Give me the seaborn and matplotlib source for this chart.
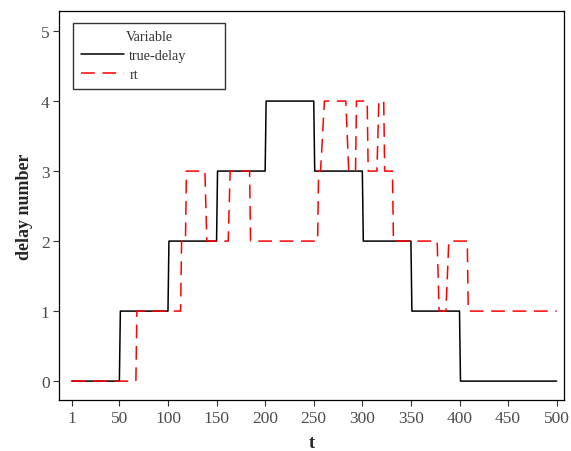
import matplotlib
matplotlib.use("Agg")
import matplotlib.pyplot as plt
import seaborn as sns
import pandas as pd

# ---- data (breakpoints) ----
t_true = [1, 50, 51, 100, 101, 150, 151, 200, 201, 250, 251, 300, 301, 350, 351, 400, 401, 500]
v_true = [0, 0, 1, 1, 2, 2, 3, 3, 4, 4, 3, 3, 2, 2, 1, 1, 0, 0]

t_rt = [1, 67, 68, 113, 114, 118, 119, 138, 140, 162, 164, 184, 185, 254, 255, 257, 261,
        283, 286, 293, 294, 305, 306, 315, 317, 322, 323, 331, 332, 377, 379, 386, 389,
        408, 409, 500]
v_rt = [0, 0, 1, 1, 2, 2, 3, 3, 2, 2, 3, 3, 2, 2, 3, 3, 4,
        4, 3, 3, 4, 4, 3, 3, 4, 4, 3, 3, 2, 2, 1, 1, 2,
        2, 1, 1]

series_names = ["true-delay", "rt"]
x_ticks = [1, 50, 100, 150, 200, 250, 300, 350, 400, 450, 500]
y_ticks = [0, 1, 2, 3, 4, 5]

df = pd.concat([
    pd.DataFrame({"t": t_true, "value": v_true, "Variable": series_names[0]}),
    pd.DataFrame({"t": t_rt, "value": v_rt, "Variable": series_names[1]}),
], ignore_index=True)

sns.set_style("ticks")
plt.rcParams["font.family"] = ["Liberation Serif", "DejaVu Serif"]

fig = plt.figure(figsize=(5.71, 4.52), dpi=100)
ax = fig.add_axes([0.1039, 0.1128, 0.8838, 0.8612])

sns.lineplot(data=df, x="t", y="value", hue="Variable", style="Variable",
             hue_order=series_names, style_order=series_names,
             palette={"true-delay": "black", "rt": "red"},
             dashes={"true-delay": "", "rt": (9, 5)},
             estimator=None, sort=True, linewidth=1.1, ax=ax)

ax.set_xlim(-11.8, 507.5)
ax.set_ylim(-0.27, 5.29)
ax.set_xticks(x_ticks)
ax.set_xticklabels([str(v) for v in x_ticks])
ax.set_yticks(y_ticks)
ax.tick_params(axis="both", labelsize=12.5, labelcolor="#4d4d4d", color="#333333",
               length=4, width=0.8, direction="out", pad=3)
for s in ax.spines.values():
    s.set_color("black")
    s.set_linewidth(0.9)
    s.set_visible(True)

ax.set_xlabel("t", fontsize=13, fontweight="bold", labelpad=6)
ax.set_ylabel("delay number", fontsize=13, fontweight="bold", labelpad=6)

leg = ax.legend(title="Variable", loc="upper left",
                bbox_to_anchor=(0.028, 0.0, 0.301, 0.968), mode="expand",
                borderaxespad=0, fancybox=False, frameon=True,
                fontsize=10.3, title_fontsize=10.3, handlelength=3.0,
                handletextpad=0.4, labelspacing=0.42, borderpad=0.5)
leg.get_frame().set_edgecolor("black")
leg.get_frame().set_linewidth(1.0)
for txt in leg.get_texts():
    txt.set_color("#333333")
leg.get_title().set_color("#333333")

fig.savefig("out.png", dpi=100)
